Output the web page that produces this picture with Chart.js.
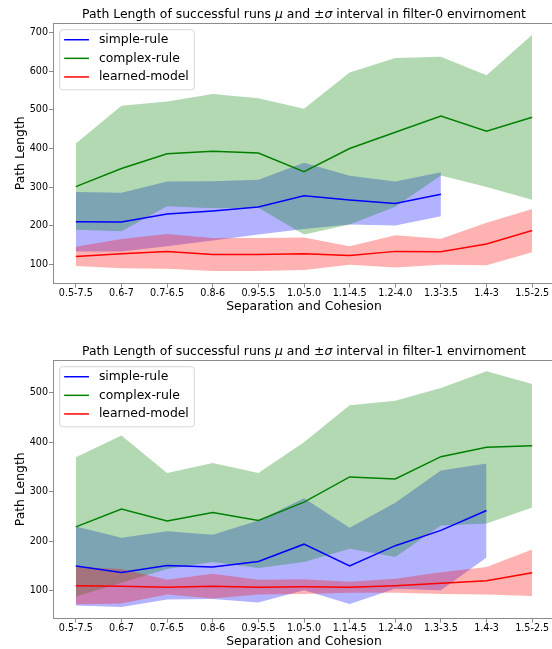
<!DOCTYPE html>
<html lang="en">
<head>
  <meta charset="UTF-8">
  <title>Path Length of successful runs</title>
  <script src="https://cdn.jsdelivr.net/npm/chart.js"></script>
  <style>
    body { margin: 0; background: #fff; }
    .panel { position: absolute; left: 0; width: 552px; overflow: hidden; }
  </style>
</head>
<body>
  <div class="panel" style="top:0; height:314px"><canvas id="filter0" width="556" height="314"></canvas></div>
  <div class="panel" style="top:337px; height:312px"><canvas id="filter1" width="556" height="312"></canvas></div>

  <script>
    const categories = ['0.5-7.5', '0.6-7', '0.7-6.5', '0.8-6', '0.9-5.5', '1.0-5.0',
                        '1.1-4.5', '1.2-4.0', '1.3-3.5', '1.4-3', '1.5-2.5'];

    // filter-0: mean and standard deviation of the path length
    const simpleMean0  = [210, 209, 230, 238, 248, 277, 266, 257, 281];
    const simpleStd0   = [77, 76, 84, 77, 71, 86, 63, 57, 57];
    const complexMean0 = [301, 348, 386, 393, 388, 340, 400, 442, 484, 445, 481];
    const complexStd0  = [112, 163, 136, 148, 142, 163, 197, 193, 154, 145, 214];
    const learnedMean0 = [120, 127, 133, 125, 125, 127, 122, 133, 132, 152, 187];
    const learnedStd0  = [25, 38, 45, 43, 43, 42, 24, 42, 34, 55, 56];
    const yTicks0 = [100, 200, 300, 400, 500, 600, 700];

    // filter-1
    const simpleMean1  = [150, 137, 151, 148, 159, 194, 150, 191, 222, 262];
    const simpleStd1   = [80, 70, 69, 65, 83, 93, 77, 87, 121, 95];
    const complexMean1 = [229, 265, 241, 258, 242, 279, 330, 326, 371, 390, 393];
    const complexStd1  = [141, 149, 97, 100, 96, 121, 145, 158, 139, 154, 125];
    const learnedMean1 = [110, 109, 107, 109, 107, 108, 107, 110, 115, 120, 136];
    const learnedStd1  = [38, 35, 15, 25, 15, 15, 11, 14, 22, 28, 47];
    const yTicks1 = [100, 200, 300, 400, 500];

    const FONT = 'DejaVu Sans';
    const SPINE = '#8c8c8c';
    Chart.defaults.color = '#000';
    Chart.defaults.font.family = FONT;

    function offsetBy(mean, std, sign) {
      return mean.map((m, i) => m + sign * std[i]);
    }

    // upper edge (invisible) + lower edge filled back to it
    function bandSets(mean, std, fillColor) {
      const edge = { borderColor: 'transparent', borderWidth: 0, pointRadius: 0, legend: false };
      return [
        Object.assign({ data: offsetBy(mean, std, 1), fill: false }, edge),
        Object.assign({ data: offsetBy(mean, std, -1), fill: '-1', backgroundColor: fillColor }, edge)
      ];
    }

    // title with italic mu/sigma, open top spine, legend inside the axes
    const decorations = {
      id: 'decorations',
      afterDraw(chart, args, opts) {
        const { ctx, chartArea: a } = chart;
        ctx.save();

        ctx.strokeStyle = SPINE;
        ctx.lineWidth = 1;
        ctx.beginPath();
        ctx.moveTo(a.left, Math.round(a.top) + 0.5);
        ctx.lineTo(chart.width, Math.round(a.top) + 0.5);
        ctx.stroke();

        const size = 12.4;
        const parts = [
          ['Path Length of successful runs ', ''], ['\u03bc', 'italic '],
          [' and \u00b1', ''], ['\u03c3', 'italic '],
          [' interval in ' + opts.env + ' envirnoment', '']
        ];
        let total = 0;
        parts.forEach(p => { ctx.font = p[1] + size + 'px "' + FONT + '"'; p.push(ctx.measureText(p[0]).width); total += p[2]; });
        let x = (a.left + a.right) / 2 - total / 2;
        ctx.fillStyle = '#000';
        ctx.textBaseline = 'middle';
        ctx.textAlign = 'left';
        parts.forEach(p => { ctx.font = p[1] + size + 'px "' + FONT + '"'; ctx.fillText(p[0], x, opts.titleY); x += p[2]; });

        // legend
        const lines = chart.data.datasets.filter(d => d.legend !== false);
        ctx.font = size + 'px "' + FONT + '"';
        const textW = Math.max(...lines.map(d => ctx.measureText(d.label).width));
        const pad = 0.4 * size, handle = 2 * size, gap = 0.8 * size, row = 1.5 * size;
        const bx = a.left + 0.5 * size, by = a.top + 0.5 * size;
        const bw = pad * 2 + handle + gap + textW;
        const bh = pad * 2 + row * (lines.length - 1) + 1.05 * size;
        ctx.beginPath();
        ctx.roundRect(bx + 0.5, by + 0.5, bw, bh, 3);
        ctx.fillStyle = 'rgba(255,255,255,0.8)';
        ctx.fill();
        ctx.strokeStyle = '#d6d6d6';
        ctx.stroke();
        lines.forEach((d, i) => {
          const cy = by + pad + 0.45 * size + i * row;
          ctx.strokeStyle = d.borderColor;
          ctx.lineWidth = 1.5;
          ctx.beginPath();
          ctx.moveTo(bx + pad, cy);
          ctx.lineTo(bx + pad + handle, cy);
          ctx.stroke();
          ctx.fillStyle = '#000';
          ctx.fillText(d.label, bx + pad + handle + gap, cy);
        });
        ctx.restore();
      }
    };

    function makePanel(id, env, s, sd, c, cd, l, ld, yMin, yMax, yTicks) {
      const line = (label, data, color) => ({
        label, data, borderColor: color, borderWidth: 1.5, pointRadius: 0, fill: false
      });
      return new Chart(document.getElementById(id), {
        type: 'line',
        data: {
          labels: categories,
          datasets: [
            line('simple-rule', s, '#0000ff'),
            line('complex-rule', c, '#008000'),
            line('learned-model', l, '#ff0000'),
            ...bandSets(l, ld, 'rgba(255,0,0,0.3)'),
            ...bandSets(c, cd, 'rgba(0,128,0,0.3)'),
            ...bandSets(s, sd, 'rgba(0,0,255,0.3)')
          ]
        },
        options: {
          responsive: false,
          animation: false,
          elements: { line: { tension: 0 } },
          layout: { padding: { top: 23, left: 0, right: 1, bottom: 0 } },
          plugins: {
            legend: { display: false },
            tooltip: { enabled: false },
            filler: { drawTime: 'beforeDatasetsDraw' },
            decorations: { env, titleY: 14.5 }
          },
          scales: {
            x: {
              offset: true,
              grid: { drawOnChartArea: false, drawTicks: true, tickLength: 4, color: SPINE },
              border: { color: SPINE },
              ticks: { font: { size: 9.6 }, padding: 0, maxRotation: 0, autoSkip: false },
              title: { display: true, text: 'Separation and Cohesion', font: { size: 12.4 }, padding: { top: 0, bottom: 0 } }
            },
            y: {
              min: yMin,
              max: yMax,
              afterBuildTicks: scale => { scale.ticks = yTicks.map(v => ({ value: v })); },
              afterFit: scale => { scale.width = 53; },
              grid: { drawOnChartArea: false, drawTicks: true, tickLength: 4, color: SPINE },
              border: { color: SPINE },
              ticks: { font: { size: 9.6 }, padding: 1 },
              title: { display: true, text: 'Path Length', font: { size: 12.4 }, padding: { top: 13, bottom: 0 } }
            }
          }
        },
        plugins: [decorations]
      });
    }

    makePanel('filter0', 'filter-0', simpleMean0, simpleStd0, complexMean0, complexStd0,
              learnedMean0, learnedStd0, 49.4, 725.5, yTicks0);
    makePanel('filter1', 'filter-1', simpleMean1, simpleStd1, complexMean1, complexStd1,
              learnedMean1, learnedStd1, 43.5, 566.5, yTicks1);
  </script>
</body>
</html>
